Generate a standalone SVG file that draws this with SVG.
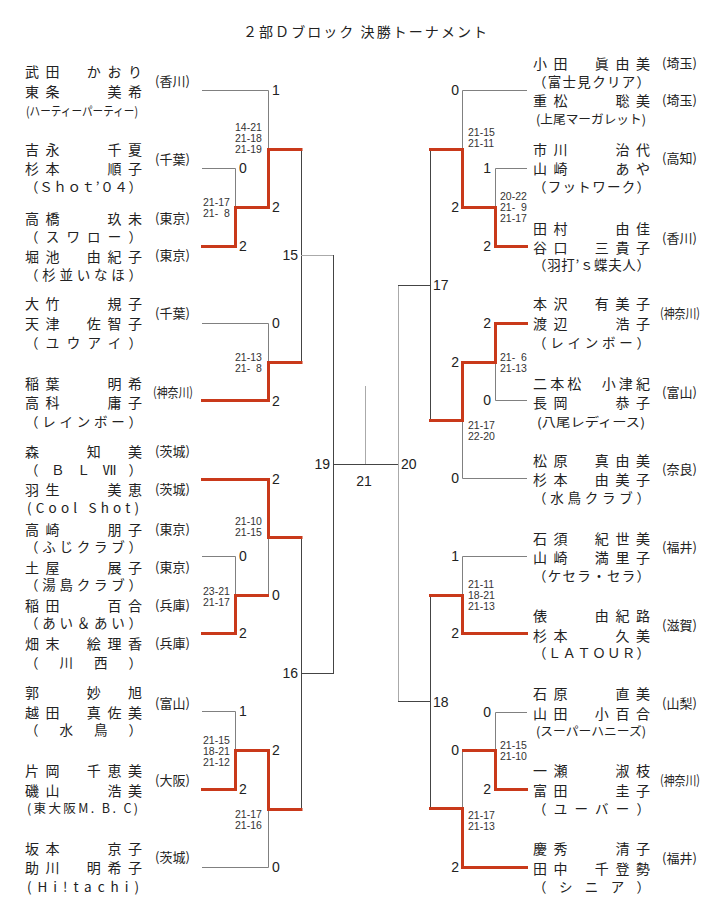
<svg xmlns="http://www.w3.org/2000/svg" width="720" height="909" viewBox="0 0 720 909">
<style>
text{font-family:"Noto Sans CJK JP","Noto Sans CJK SC",sans-serif;fill:#222}
.nm{font-size:14px}
.cl{font-size:13.5px}
.cs{font-size:12.5px}
.pf{font-size:13px}
.sc{font-family:"Liberation Sans",Arial,sans-serif;font-size:14px}
.gm{font-family:"Liberation Sans",Arial,sans-serif;font-size:10.5px;fill:#333}
.ti{font-size:14px}
.ln{fill:none;stroke:#808080;stroke-width:1}
.lt{fill:none;stroke:#aaaaaa;stroke-width:1}
.dk{fill:none;stroke:#444444;stroke-width:1}
.red{fill:none;stroke:#c9391a;stroke-width:3;stroke-linejoin:miter}
</style>
<rect width="720" height="909" fill="#ffffff"/>
<text id="title" class="ti" x="243" y="37" textLength="244" lengthAdjust="spacing">２部Ｄブロック 決勝トーナメント</text>

<g id="connectors">
<path class="ln" d="M202,90.5 H268.5 V149"/>
<path class="ln" d="M202,168.5 H235.5 V207"/>
<path class="ln" d="M202,323.5 H268.5 V362"/>
<path class="ln" d="M202,556.5 H235.5 V595"/>
<path class="ln" d="M268.5,537 V595"/>
<path class="ln" d="M202,711.5 H235.5 V750"/>
<path class="ln" d="M202,867.5 H268.5 V809"/>
<path class="dk" d="M301.5,149 V362"/>
<path class="dk" d="M301.5,537 V809"/>
<path class="lt" d="M301,255.5 H333.5"/>
<path class="dk" d="M333.5,255 V674 M301,673.5 H333.5"/>
<path class="dk" d="M333,464.5 H398"/>
<path class="lt" d="M365.5,386 V464"/>
<path class="lt" d="M398.5,285 V702"/>
<path class="dk" d="M398,285.5 H430 M398,701.5 H430"/>
<path class="dk" d="M430.5,149 V420 M430.5,595 V808"/>
<path class="ln" d="M527,90.5 H462.5 V149"/>
<path class="ln" d="M527,168.5 H495.5 V207"/>
<path class="ln" d="M527,400.5 H495.5 V362"/>
<path class="ln" d="M527,478.5 H462.5 V420"/>
<path class="ln" d="M527,556.5 H462.5 V595"/>
<path class="ln" d="M527,712.5 H495.5 V750"/>
<path class="ln" d="M462.5,750 V808"/>
<path class="red" d="M201,246.5 H235.5 V207.5 H268.5 V149.5 H302.5"/>
<path class="red" d="M201,400.5 H268.5 V362.5 H302.5"/>
<path class="red" d="M201,479.5 H268.5 V537.5 H302.5"/>
<path class="red" d="M201,633.5 H235.5 V595.5 H269"/>
<path class="red" d="M201,789.5 H235.5 V750.5 H268.5 V809.5 H302.5"/>
<path class="red" d="M528,246.5 H495.5 V207.5 H462.5 V149.5 H429"/>
<path class="red" d="M528,323.5 H495.5 V362.5 H462.5 V420.5 H429"/>
<path class="red" d="M528,633.5 H462.5 V595.5 H429"/>
<path class="red" d="M528,789.5 H495.5 V750.5 H462"/>
<path class="red" d="M528,867.5 H462.5 V808.5 H429"/>
</g>

<g id="scores" class="sc">
<text class="sc" x="272" y="95">1</text>
<text class="sc" x="239" y="173">0</text>
<text class="sc" x="272" y="212">2</text>
<text class="sc" x="239" y="251">2</text>
<text class="sc" x="272" y="328">0</text>
<text class="sc" x="272" y="406">2</text>
<text class="sc" x="272" y="484">2</text>
<text class="sc" x="239" y="561">0</text>
<text class="sc" x="272" y="600">0</text>
<text class="sc" x="239" y="638">2</text>
<text class="sc" x="239" y="716">1</text>
<text class="sc" x="272" y="755">2</text>
<text class="sc" x="239" y="794">2</text>
<text class="sc" x="272" y="872">0</text>
<text class="sc" x="298" y="260" text-anchor="end">15</text>
<text class="sc" x="298" y="678" text-anchor="end">16</text>
<text class="sc" x="330" y="469" text-anchor="end">19</text>
<text class="sc" x="364" y="486" text-anchor="middle">21</text>
<text class="sc" x="401" y="469">20</text>
<text class="sc" x="433" y="290">17</text>
<text class="sc" x="433" y="707">18</text>
<text class="sc" x="459" y="95" text-anchor="end">0</text>
<text class="sc" x="491" y="173" text-anchor="end">1</text>
<text class="sc" x="459" y="212" text-anchor="end">2</text>
<text class="sc" x="491" y="251" text-anchor="end">2</text>
<text class="sc" x="491" y="328" text-anchor="end">2</text>
<text class="sc" x="459" y="367" text-anchor="end">2</text>
<text class="sc" x="491" y="405" text-anchor="end">0</text>
<text class="sc" x="459" y="483" text-anchor="end">0</text>
<text class="sc" x="459" y="561" text-anchor="end">1</text>
<text class="sc" x="459" y="638" text-anchor="end">2</text>
<text class="sc" x="491" y="717" text-anchor="end">0</text>
<text class="sc" x="459" y="755" text-anchor="end">0</text>
<text class="sc" x="491" y="794" text-anchor="end">2</text>
<text class="sc" x="459" y="872" text-anchor="end">2</text>
</g>

<g id="games">
<text class="gm" x="235" y="131"><tspan x="235">14-21</tspan><tspan x="235" dy="11">21-18</tspan><tspan x="235" dy="10.5">21-19</tspan></text>
<text class="gm" x="203" y="206"><tspan x="203">21-17</tspan><tspan x="203" dy="11">21-&#x2007;8</tspan></text>
<text class="gm" x="235" y="361"><tspan x="235">21-13</tspan><tspan x="235" dy="11">21-&#x2007;8</tspan></text>
<text class="gm" x="235" y="525"><tspan x="235">21-10</tspan><tspan x="235" dy="10.5">21-15</tspan></text>
<text class="gm" x="203" y="595"><tspan x="203">23-21</tspan><tspan x="203" dy="10.5">21-17</tspan></text>
<text class="gm" x="203" y="744"><tspan x="203">21-15</tspan><tspan x="203" dy="11">18-21</tspan><tspan x="203" dy="11">21-12</tspan></text>
<text class="gm" x="235" y="818"><tspan x="235">21-17</tspan><tspan x="235" dy="11">21-16</tspan></text>
<text class="gm" x="468" y="136"><tspan x="468">21-15</tspan><tspan x="468" dy="11">21-11</tspan></text>
<text class="gm" x="500" y="200"><tspan x="500">20-22</tspan><tspan x="500" dy="11">21-&#x2007;9</tspan><tspan x="500" dy="11">21-17</tspan></text>
<text class="gm" x="500" y="361"><tspan x="500">21-&#x2007;6</tspan><tspan x="500" dy="11">21-13</tspan></text>
<text class="gm" x="468" y="429"><tspan x="468">21-17</tspan><tspan x="468" dy="11">22-20</tspan></text>
<text class="gm" x="468" y="588"><tspan x="468">21-11</tspan><tspan x="468" dy="11">18-21</tspan><tspan x="468" dy="11">21-13</tspan></text>
<text class="gm" x="500" y="749"><tspan x="500">21-15</tspan><tspan x="500" dy="11">21-10</tspan></text>
<text class="gm" x="468" y="819"><tspan x="468">21-17</tspan><tspan x="468" dy="11">21-13</tspan></text>
</g>

<g id="L1"><text class="nm" x="25" y="77" textLength="117">武田　かおり</text><text class="nm" x="25" y="97" textLength="117">東条　　美希</text><text class="cs" x="26" y="116" textLength="112" lengthAdjust="spacingAndGlyphs">(ハーティーパーティー)</text><text class="pf" x="155" y="86">(香川)</text></g>
<g id="L2"><text class="nm" x="25" y="154.5" textLength="117">吉永　　千夏</text><text class="nm" x="25" y="173.5" textLength="117">杉本　　順子</text><text class="cl" x="25" y="192" textLength="117">（Ｓｈｏｔ’０４）</text><text class="pf" x="155" y="164">(千葉)</text></g>
<g id="L3"><text class="nm" x="25" y="223.5" textLength="117">高橋　　玖未</text><text class="cl" x="25" y="242" textLength="117">（スワロー）</text><text class="nm" x="25" y="261.5" textLength="117">堀池　由紀子</text><text class="cl" x="25" y="280" textLength="117">（杉並いなほ）</text><text class="pf" x="155" y="223">(東京)</text><text class="pf" x="155" y="260">(東京)</text></g>
<g id="L4"><text class="nm" x="25" y="308.5" textLength="117">大竹　　規子</text><text class="nm" x="25" y="328.5" textLength="117">天津　佐智子</text><text class="cl" x="25" y="348" textLength="117">（ユウアイ）</text><text class="pf" x="155" y="318">(千葉)</text></g>
<g id="L5"><text class="nm" x="25" y="388.5" textLength="117">稲葉　　明希</text><text class="nm" x="25" y="407.5" textLength="117">高科　　庸子</text><text class="cl" x="25" y="427" textLength="117">（レインボー）</text><text class="pf" x="153" y="397" textLength="40" lengthAdjust="spacingAndGlyphs">(神奈川)</text></g>
<g id="L6"><text class="nm" x="25" y="456.5" textLength="117">森　　知　美</text><text class="cl" x="25" y="475" textLength="117">（ＢＬⅦ）</text><text class="nm" x="25" y="494.5" textLength="117">羽生　　美恵</text><text class="cl" x="27" y="513" textLength="112">(Cool Shot)</text><text class="pf" x="155" y="456">(茨城)</text><text class="pf" x="155" y="494">(茨城)</text></g>
<g id="L7"><text class="nm" x="25" y="534.5" textLength="117">高崎　　朋子</text><text class="cl" x="25" y="552" textLength="117">（ふじクラブ）</text><text class="nm" x="25" y="572.5" textLength="117">土屋　　展子</text><text class="cl" x="25" y="590" textLength="117">（湯島クラブ）</text><text class="pf" x="155" y="534">(東京)</text><text class="pf" x="155" y="572">(東京)</text></g>
<g id="L8"><text class="nm" x="25" y="610.5" textLength="117">稲田　　百合</text><text class="cl" x="25" y="628" textLength="117">（あい＆あい）</text><text class="nm" x="25" y="648.5" textLength="117">畑末　絵理香</text><text class="cl" x="25" y="668" textLength="117">（川西）</text><text class="pf" x="155" y="610">(兵庫)</text><text class="pf" x="155" y="648">(兵庫)</text></g>
<g id="L9"><text class="nm" x="25" y="697.5" textLength="117">郭　　妙　旭</text><text class="nm" x="25" y="717.5" textLength="117">越田　真佐美</text><text class="cl" x="25" y="735" textLength="117">（水鳥）</text><text class="pf" x="155" y="708">(富山)</text></g>
<g id="L10"><text class="nm" x="25" y="775.5" textLength="117">片岡　千恵美</text><text class="nm" x="25" y="795.5" textLength="117">磯山　　浩美</text><text class="cs" x="27" y="813" textLength="111">(東大阪M. B. C)</text><text class="pf" x="155" y="785">(大阪)</text></g>
<g id="L11"><text class="nm" x="25" y="853.5" textLength="117">坂本　　京子</text><text class="nm" x="25" y="872.5" textLength="117">助川　明希子</text><text class="cl" x="27" y="892" textLength="112">(Hi!tachi)</text><text class="pf" x="155" y="862">(茨城)</text></g>

<g id="R1"><text class="nm" x="533" y="68.5" textLength="117">小田　眞由美</text><text class="cl" x="533" y="87" textLength="117">（富士見クリア）</text><text class="nm" x="533" y="105.5" textLength="117">重松　　聡美</text><text class="cs" x="536" y="124" textLength="110" lengthAdjust="spacingAndGlyphs">(上尾マーガレット)</text><text class="pf" x="662" y="68">(埼玉)</text><text class="pf" x="662" y="105">(埼玉)</text></g>
<g id="R2"><text class="nm" x="533" y="154.5" textLength="117">市川　　治代</text><text class="nm" x="533" y="173.5" textLength="117">山崎　　あや</text><text class="cl" x="533" y="192" textLength="117">（フットワーク）</text><text class="pf" x="662" y="163">(高知)</text></g>
<g id="R3"><text class="nm" x="533" y="233.5" textLength="117">田村　　由佳</text><text class="nm" x="533" y="252.5" textLength="117">谷口　三貴子</text><text class="cl" x="533" y="270" textLength="117">（羽打’ｓ蝶夫人）</text><text class="pf" x="662" y="243">(香川)</text></g>
<g id="R4"><text class="nm" x="533" y="308.5" textLength="117">本沢　有美子</text><text class="nm" x="533" y="328.5" textLength="117">渡辺　　浩子</text><text class="cl" x="533" y="348" textLength="117">（レインボー）</text><text class="pf" x="660" y="318" textLength="40" lengthAdjust="spacingAndGlyphs">(神奈川)</text></g>
<g id="R5"><text class="nm" x="533" y="388.5" textLength="117">二本松　小津紀</text><text class="nm" x="533" y="407.5" textLength="117">長岡　　恭子</text><text class="cs" x="537" y="427" textLength="108" lengthAdjust="spacingAndGlyphs">(八尾レディース)</text><text class="pf" x="662" y="397">(富山)</text></g>
<g id="R6"><text class="nm" x="533" y="465.5" textLength="117">松原　真由美</text><text class="nm" x="533" y="484.5" textLength="117">杉本　由美子</text><text class="cl" x="533" y="503" textLength="117">（水鳥クラブ）</text><text class="pf" x="662" y="474">(奈良)</text></g>
<g id="R7"><text class="nm" x="533" y="543.5" textLength="117">石須　紀世美</text><text class="nm" x="533" y="562.5" textLength="117">山崎　満里子</text><text class="cl" x="533" y="581" textLength="117">（ケセラ・セラ）</text><text class="pf" x="662" y="552">(福井)</text></g>
<g id="R8"><text class="nm" x="533" y="620.5" textLength="117">俵　　由紀路</text><text class="nm" x="533" y="640.5" textLength="117">杉本　　久美</text><text class="cl" x="533" y="658" textLength="117">（ＬＡＴＯＵＲ）</text><text class="pf" x="662" y="630">(滋賀)</text></g>
<g id="R9"><text class="nm" x="533" y="698.5" textLength="117">石原　　直美</text><text class="nm" x="533" y="718.5" textLength="117">山田　小百合</text><text class="cs" x="536" y="736" textLength="110" lengthAdjust="spacingAndGlyphs">(スーパーハニーズ)</text><text class="pf" x="662" y="708">(山梨)</text></g>
<g id="R10"><text class="nm" x="533" y="775.5" textLength="117">一瀬　　淑枝</text><text class="nm" x="533" y="795.5" textLength="117">富田　　圭子</text><text class="cl" x="533" y="814" textLength="117">（ユーバー）</text><text class="pf" x="660" y="785" textLength="40" lengthAdjust="spacingAndGlyphs">(神奈川)</text></g>
<g id="R11"><text class="nm" x="533" y="853.5" textLength="117">慶秀　　清子</text><text class="nm" x="533" y="873.5" textLength="117">田中　千登勢</text><text class="cl" x="533" y="892" textLength="117">（シニア）</text><text class="pf" x="662" y="863">(福井)</text></g>
</svg>
